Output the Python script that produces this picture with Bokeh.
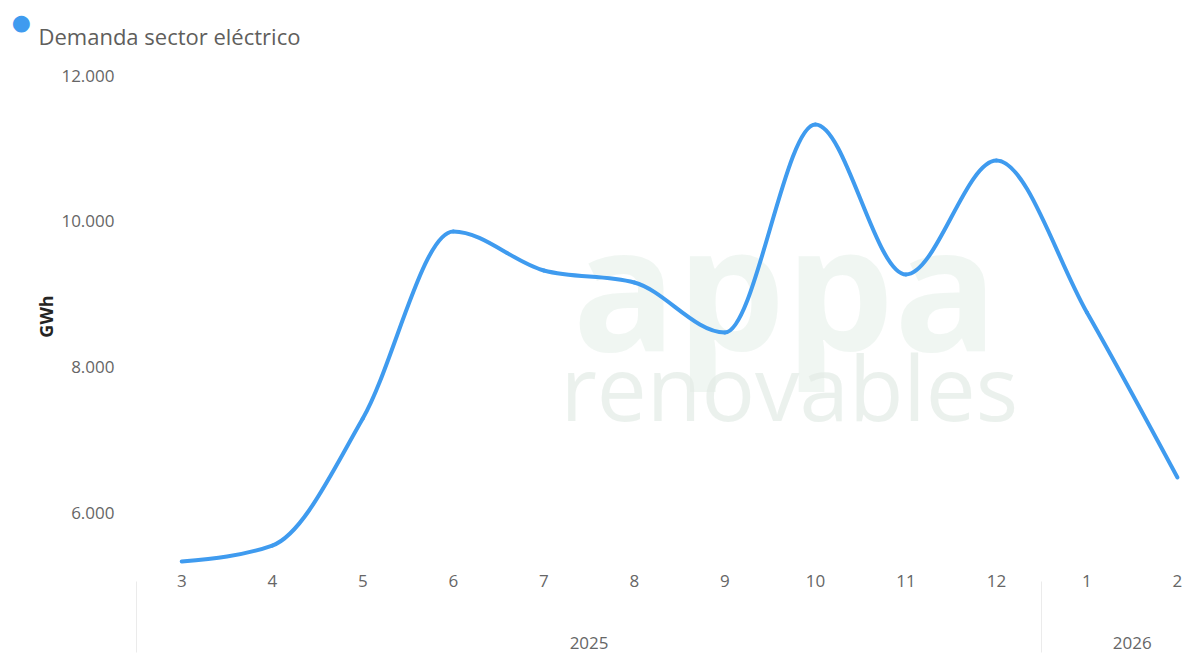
from bokeh.plotting import figure
from bokeh.models import (Range1d, FixedTicker, LinearAxis, Title,
                          ColumnDataSource, Label)
from bokeh.embed import file_html
from bokeh.resources import INLINE

# ---- data ----
months = ["3", "4", "5", "6", "7", "8", "9", "10", "11", "12", "1", "2"]
years = ["2025", "2026"]
year_of_month = ["2025"] * 10 + ["2026"] * 2
demanda = [5330, 5549, 7294, 9863, 9327, 9162, 8475, 11332, 9272, 10838, 8750, 6484]
y_ticks = [6000, 8000, 10000, 12000]
series_name = "Demanda sector eléctrico"
y_label = "GWh"

BLUE = "#3F9BEF"
FONT = "Open Sans"
TICK_COLOR = "#666666"

xs = list(range(len(months)))

# monotone-X cubic (smooth line through the data points) as bezier segments
def monotone_beziers(x, y):
    n = len(x)
    t = [0.0] * n
    for i in range(1, n - 1):
        h0 = x[i] - x[i - 1]
        h1 = x[i + 1] - x[i]
        s0 = (y[i] - y[i - 1]) / h0
        s1 = (y[i + 1] - y[i]) / h1
        p_ = (s0 * h1 + s1 * h0) / (h0 + h1)
        sg = (1 if s0 > 0 else -1 if s0 < 0 else 0) + (1 if s1 > 0 else -1 if s1 < 0 else 0)
        t[i] = sg * min(abs(s0), abs(s1), 0.5 * abs(p_)) if sg else 0.0
    h = x[1] - x[0]
    t[0] = (3 * (y[1] - y[0]) / h - t[1]) / 2
    h = x[-1] - x[-2]
    t[-1] = (3 * (y[-1] - y[-2]) / h - t[-2]) / 2
    seg = dict(x0=[], y0=[], x1=[], y1=[], cx0=[], cy0=[], cx1=[], cy1=[])
    for i in range(n - 1):
        dx = (x[i + 1] - x[i]) / 3
        seg["x0"].append(x[i]); seg["y0"].append(y[i])
        seg["x1"].append(x[i + 1]); seg["y1"].append(y[i + 1])
        seg["cx0"].append(x[i] + dx); seg["cy0"].append(y[i] + dx * t[i])
        seg["cx1"].append(x[i + 1] - dx); seg["cy1"].append(y[i + 1] - dx * t[i + 1])
    return seg

W, H = 1186, 656
B_LEFT, B_TOP, B_BOTTOM = 136, 62, 86

p = figure(width=W, height=H, output_backend="svg", toolbar_location=None,
           x_range=Range1d(-0.5, 11.10), y_range=Range1d(5206, 12184),
           min_border_left=B_LEFT, min_border_right=0, min_border_top=B_TOP,
           min_border_bottom=B_BOTTOM, x_axis_location=None, y_axis_location=None)
p.outline_line_color = None
p.xgrid.visible = False
p.ygrid.visible = False
p.background_fill_color = "white"
p.border_fill_color = "white"

# watermark
p.add_layout(Label(x=436, y=170, x_units="screen", y_units="screen", text="appa",
                   text_font=FONT, text_font_style="bold", text_font_size="172px",
                   text_color="#e6f0e9", text_alpha=0.6, level="underlay"))
p.add_layout(Label(x=424, y=124, x_units="screen", y_units="screen", text="renovables",
                   text_font=FONT, text_font_size="89px",
                   text_color="#e3ebe6", text_alpha=0.7, level="underlay"))

src = ColumnDataSource(monotone_beziers(xs, demanda))
p.bezier(x0="x0", y0="y0", x1="x1", y1="y1", cx0="cx0", cy0="cy0", cx1="cx1", cy1="cy1",
         source=src, line_color=BLUE, line_width=4, line_cap="round")

# y axis
yax = LinearAxis(ticker=FixedTicker(ticks=y_ticks),
                 major_label_overrides={v: f"{v:,}".replace(",", ".") for v in y_ticks},
                 axis_label=y_label, axis_label_text_font=FONT,
                 axis_label_text_font_style="bold", axis_label_text_font_size="18px",
                 axis_label_text_color="#252423", axis_label_standoff=0,
                 major_label_text_font=FONT, major_label_text_font_size="17px",
                 major_label_text_color=TICK_COLOR, major_label_standoff=16,
                 axis_line_color=None, major_tick_line_color=None,
                 minor_tick_line_color=None)
p.add_layout(yax, "left")

# legend: series name as a title above, colored marker as a (rotated) title on the left
p.add_layout(Title(text=series_name, align="left", offset=38 - B_LEFT, standoff=24,
                   text_font=FONT, text_font_size="22px", text_font_style="normal",
                   text_color="#605E5C"), "above")
p.add_layout(Title(text="\u25CF", align="right", offset=-48, standoff=0,
                   text_font="DejaVu Sans", text_font_size="22px", text_font_style="normal",
                   text_color=BLUE), "left")

# x axis: months
xax = LinearAxis(ticker=FixedTicker(ticks=xs),
                 major_label_overrides={i: m for i, m in enumerate(months)},
                 major_label_text_font=FONT, major_label_text_font_size="17px",
                 major_label_text_color=TICK_COLOR, major_label_standoff=4,
                 axis_line_color=None, major_tick_line_color=None,
                 major_tick_out=0, major_tick_in=0, minor_tick_line_color=None)
p.add_layout(xax, "below")

# year group axis, with year separators drawn as minor ticks
boundaries = [-0.495] + [i - 0.5 for i in range(1, len(months)) if year_of_month[i] != year_of_month[i - 1]]
centers = []
for yname in years:
    idx = [i for i, yy in enumerate(year_of_month) if yy == yname]
    centers.append((idx[0] + idx[-1]) / 2)
yrax = LinearAxis(ticker=FixedTicker(ticks=centers, minor_ticks=boundaries),
                  major_label_overrides={c: yname for c, yname in zip(centers, years)},
                  major_label_text_font=FONT, major_label_text_font_size="17px",
                  major_label_text_color=TICK_COLOR, major_label_standoff=-16,
                  axis_line_color=None, major_tick_line_color=None,
                  major_tick_out=0, major_tick_in=0,
                  minor_tick_line_color="#ebebeb", minor_tick_line_width=1,
                  minor_tick_out=63, minor_tick_in=8)
p.add_layout(yrax, "below")

open("out.html", "w").write(file_html(p, INLINE))
